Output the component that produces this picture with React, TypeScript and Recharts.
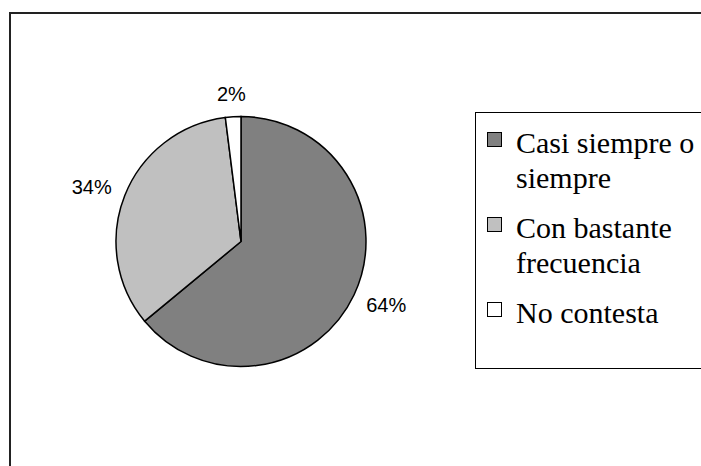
import { PieChart, Pie, Cell, Legend } from 'recharts'

const categories = ['Casi siempre o siempre', 'Con bastante frecuencia', 'No contesta']
const shares = [64, 34, 2]
const sliceColors = ['#808080', '#c0c0c0', '#ffffff']

const data = categories.map((name, i) => ({ name, value: shares[i] }))

const RADIAN = Math.PI / 180

function SliceLabel(props: any) {
  const { cx, cy, midAngle, outerRadius, value } = props
  const text = `${value}%`
  const w = text.length * 13
  const h = 14
  const cos = Math.cos(-midAngle * RADIAN)
  const sin = Math.sin(-midAngle * RADIAN)
  const r = outerRadius + 16
  const x = cx + r * cos + (w / 2) * cos
  const y = cy + r * sin + (h / 2) * sin
  return (
    <text x={x} y={y} textAnchor="middle" dominantBaseline="central"
      style={{ fontFamily: '"Liberation Sans", Arial, sans-serif', fontSize: 20, fill: '#000' }}>
      {text}
    </text>
  )
}

function LegendBox() {
  return (
    <div style={{
      width: 260, height: 257, border: '1px solid #000', boxSizing: 'border-box',
      paddingTop: 13, paddingLeft: 11,
      fontFamily: '"Liberation Serif", "Times New Roman", serif', fontSize: 30, lineHeight: '34.5px', color: '#000',
    }}>
      {categories.map((c, i) => (
        <div key={c} style={{ display: 'flex', alignItems: 'flex-start', marginBottom: 16 }}>
          <div style={{
            width: 15, height: 15, marginTop: 6, marginRight: 14, flex: 'none',
            background: sliceColors[i], border: '1.5px solid #000', boxSizing: 'border-box',
          }} />
          <div style={{ width: 184 }}>{c}</div>
        </div>
      ))}
    </div>
  )
}

export default function App() {
  return (
    <div style={{ position: 'fixed', left: 0, top: 0, width: 701, height: 466, overflow: 'hidden', background: '#fff' }}>
      <div style={{
        position: 'absolute', left: 9, top: 12, width: 800, height: 600,
        border: '2px solid #222', boxSizing: 'border-box',
      }} />
      <div style={{ position: 'absolute', left: 0, top: 0 }}>
        <PieChart width={701} height={466} margin={{ top: 0, right: 0, bottom: 0, left: 0 }}>
          <Pie
            data={data} dataKey="value" nameKey="name"
            cx={241} cy={241.5} outerRadius={125}
            startAngle={90} endAngle={-270}
            stroke="#000" strokeWidth={1.5}
            label={SliceLabel} labelLine={false}
            isAnimationActive={false}
          >
            {data.map((d, i) => <Cell key={d.name} fill={sliceColors[i]} />)}
          </Pie>
          <Legend content={() => <LegendBox />}
            wrapperStyle={{ position: 'absolute', left: 475, top: 112, width: 260, height: 257 }} />
        </PieChart>
      </div>
    </div>
  )
}
